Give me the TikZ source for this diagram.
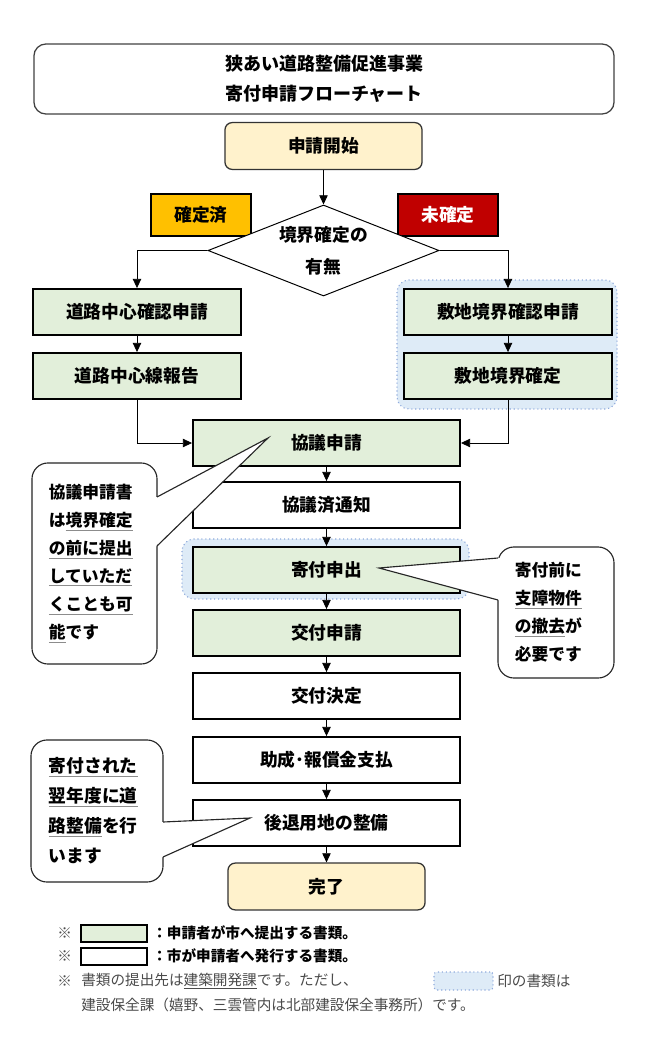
\documentclass[tikz,border=0pt]{standalone}
\usepackage{fontspec}
\setmainfont{Noto Sans CJK JP}
\usetikzlibrary{shapes.geometric,arrows.meta,calc}

\definecolor{teishutsuiro}{HTML}{E2EFDA}
\definecolor{kaishiiro}{HTML}{FFF2CC}
\definecolor{kenzeniro}{HTML}{DEEBF7}
\definecolor{kakuteiiro}{HTML}{FFC000}
\definecolor{mikakuteiiro}{HTML}{C00000}
\definecolor{tenseniro}{HTML}{8FAADC}
\definecolor{bikouiro}{HTML}{4A4A4A}

\newcommand{\hako}{\fontsize{12.6}{15}\selectfont\bfseries}
\newcommand{\hanrei}{\fontsize{10.4}{12}\selectfont}
\newcommand{\sen}[1]{{\color{black!45}\underline{\color{black}#1}}}

\tikzset{
  box/.style={draw, line width=1.3pt, minimum width=6.675cm, minimum height=1.15cm, font=\hako},
  teishutsu/.style={box, fill=teishutsuiro},
  hakkou/.style={box, fill=white},
  sayuu/.style={teishutsu, minimum width=5.2cm},
  tanmatsu/.style={draw=black!80, line width=0.9pt, rounded corners=0.18cm, fill=kaishiiro, minimum width=4.925cm, minimum height=1.17cm, font=\hako},
  fuda/.style={draw, line width=1.3pt, minimum width=2.5cm, minimum height=1.03cm, font=\hako},
  fukidashi/.style={draw=black!85, line width=0.8pt, rounded corners=0.4cm, fill=white, align=left, inner xsep=0.425cm, inner ysep=0pt, font=\fontsize{11.9}{19.9}\selectfont\bfseries},
  kenzenwaku/.style={draw=tenseniro, dotted, line width=0.8pt, fill=kenzeniro, rounded corners=0.3cm},
  yajirushi/.style={-{Triangle[length=2.3mm,width=2.1mm]}, line width=0.6pt},
}

\begin{document}
\begin{tikzpicture}[x=0.025cm, y=-0.025cm]
\useasboundingbox (0,0) rectangle (656,1050);

% regions for 建設保全課
\draw[kenzenwaku] (397,280) rectangle (617,409);
\draw[kenzenwaku] (182,539) rectangle (469,599);

\node[draw=black!75, line width=0.9pt, rounded corners=0.3cm, minimum width=14.5cm, minimum height=1.75cm, align=center, font=\fontsize{12.8}{21.3}\selectfont\bfseries] (title) at (324,79) {狭あい道路整備促進事業\\寄付申請フローチャート};

\node[tanmatsu] (kaishi) at (323.5,146) {申請開始};
\node[fuda, fill=kakuteiiro] (kakutei) at (201,215) {確定済};
\node[fuda, fill=mikakuteiiro, text=white] (mikakutei) at (448,215) {未確定};
\node[diamond, shape aspect=2.54, draw, fill=white, line width=0.7pt, minimum width=5.775cm, minimum height=2.275cm, inner sep=0pt, align=center, font=\fontsize{12.6}{22.8}\selectfont\bfseries] (umu) at (323.5,250.5) {境界確定の\\有無};

\node[sayuu] (chushin) at (137,312) {道路中心確認申請};
\node[sayuu] (chushinsen) at (137,376) {道路中心線報告};
\node[sayuu] (shikichi) at (508,312) {敷地境界確認申請};
\node[sayuu] (kyoukai) at (508,376) {敷地境界確定};

\node[teishutsu] (kyogi) at (326.5,443) {協議申請};
\node[hakkou] (tsuchi) at (326.5,505) {協議済通知};
\node[teishutsu] (moushide) at (326.5,570) {寄付申出};
\node[teishutsu] (koufu) at (326.5,633) {交付申請};
\node[hakkou] (kettei) at (326.5,696) {交付決定};
\node[hakkou] (shiharai) at (326.5,760) {助成･報償金支払};
\node[hakkou] (seibi) at (326.5,823) {後退用地の整備};
\node[tanmatsu] (kanryo) at (326.5,886.5) {完了};

\draw[yajirushi] (kaishi) -- (umu);
\draw[yajirushi] (umu.west) -| (chushin);
\draw[yajirushi] (umu.east) -| (shikichi);
\draw[yajirushi] (chushin) -- (chushinsen);
\draw[yajirushi] (shikichi) -- (kyoukai);
\draw[yajirushi] (chushinsen) |- (kyogi);
\draw[yajirushi] (kyoukai) |- (kyogi);
\draw[yajirushi] (kyogi) -- (tsuchi);
\draw[yajirushi] (tsuchi) -- (moushide);
\draw[yajirushi] (moushide) -- (koufu);
\draw[yajirushi] (koufu) -- (kettei);
\draw[yajirushi] (kettei) -- (shiharai);
\draw[yajirushi] (shiharai) -- (seibi);
\draw[yajirushi] (seibi) -- (kanryo);

% callouts
\node[fukidashi, minimum width=3.125cm, minimum height=5.025cm, text width=2.275cm] (kyogimemo) at (94.5,563.5) {協議申請書\\は\sen{境界確定}\\\sen{の前に提出}\\\sen{していただ}\\\sen{くことも可}\\\sen{能}です};
\coordinate (kyogisaki) at (268,438);
\coordinate (kyogiue) at (157,497);
\coordinate (kyogishita) at (157,546);
\fill[white] (kyogisaki) -- (kyogiue) -- ++(-2,0) -- ($(kyogishita)+(-2,0)$) -- (kyogishita) -- cycle;
\draw[black!85, line width=0.8pt] (kyogiue) -- (kyogisaki) -- (kyogishita);

\node[fukidashi, minimum width=2.9cm, minimum height=3.275cm, text width=2.05cm] (kifumemo) at (556,612.5) {寄付前に\\\sen{支障物件}\\\sen{の撤去}が\\必要です};
\coordinate (kifusaki) at (379,568);
\coordinate (kifuue) at (498,558);
\coordinate (kifushita) at (498,600);
\fill[white] (kifusaki) -- (kifuue) -- ++(2,0) -- ($(kifushita)+(2,0)$) -- (kifushita) -- cycle;
\draw[black!85, line width=0.8pt] (kifuue) -- (kifusaki) -- (kifushita);

\node[fukidashi, minimum width=3.3cm, minimum height=3.55cm, text width=2.4cm, inner xsep=0.45cm, font=\fontsize{12.6}{21.3}\selectfont\bfseries] (seibimemo) at (97,811) {\sen{寄付された}\\\sen{翌年度に道}\\\sen{路整備}を行\\います};
\coordinate (seibisaki) at (250,818);
\coordinate (seibiue) at (163,822);
\coordinate (seibishita) at (163,857);
\fill[white] (seibisaki) -- (seibiue) -- ++(-2,0) -- ($(seibishita)+(-2,0)$) -- (seibishita) -- cycle;
\draw[black!85, line width=0.8pt] (seibiue) -- (seibisaki) -- (seibishita);

% legend
\node[anchor=west, inner sep=0pt, font=\hanrei, text=black!70] (kome1) at (57,933) {※};
\node[draw, line width=1.2pt, fill=teishutsuiro, minimum width=1.65cm, minimum height=0.425cm] (hanrei1) at (114,933.5) {};
\node[anchor=west, inner sep=0pt, font=\hanrei\bfseries] (setsumei1) at (152,933) {：申請者が市へ提出する書類。};
\node[anchor=west, inner sep=0pt, font=\hanrei, text=black!70] (kome2) at (57,956) {※};
\node[draw, line width=1.2pt, fill=white, minimum width=1.65cm, minimum height=0.425cm] (hanrei2) at (114,956.5) {};
\node[anchor=west, inner sep=0pt, font=\hanrei\bfseries] (setsumei2) at (152,956) {：市が申請者へ発行する書類。};
\node[anchor=west, inner sep=0pt, font=\hanrei, text=black!70] (kome3) at (57,981) {※};
\node[anchor=west, inner sep=0pt, font=\hanrei, text=bikouiro] (setsumei3) at (81,981) {書類の提出先は\underline{建築開発課}です。ただし、};
\node[draw=tenseniro, dotted, line width=0.8pt, fill=kenzeniro, rounded corners=2pt, minimum width=1.475cm, minimum height=0.45cm] (hanrei3) at (463.5,981) {};
\node[anchor=west, inner sep=0pt, font=\hanrei, text=bikouiro] (setsumei4) at (497,981) {印の書類は};
\node[anchor=west, inner sep=0pt, font=\hanrei, text=bikouiro] (setsumei5) at (81,1005) {建設保全課（嬉野、三雲管内は北部建設保全事務所）です。};
\end{tikzpicture}
\end{document}
